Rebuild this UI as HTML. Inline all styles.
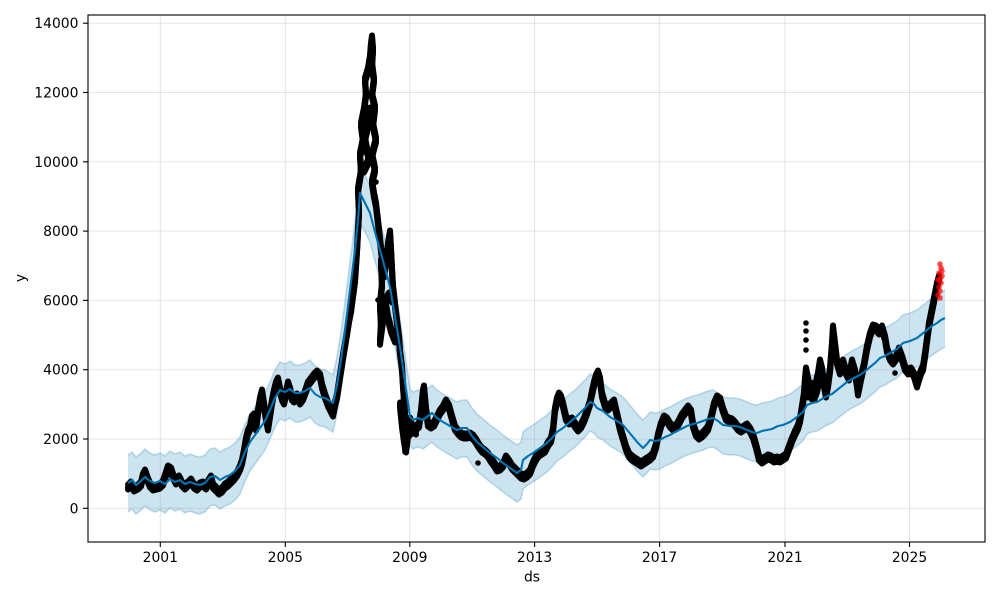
<!DOCTYPE html>
<html>
<head>
<meta charset="utf-8">
<style>
  html,body{margin:0;padding:0;background:#fff;width:1000px;height:600px;overflow:hidden;}
  svg{display:block;}
  text{font-family:"DejaVu Sans","Liberation Sans",sans-serif;font-size:13.9px;fill:#000;}
</style>
</head>
<body>
<svg width="1000" height="600" viewBox="0 0 1000 600" xmlns="http://www.w3.org/2000/svg">
  <defs>
    <clipPath id="ax"><rect x="88" y="15" width="897" height="527"/></clipPath>
  </defs>
  <rect x="0" y="0" width="1000" height="600" fill="#fff"/>

  <g clip-path="url(#ax)">
    <polygon fill="#cce3f0" transform="translate(0,-28)" points="128,483 132,480 136,485 140,482 145,477 150,481 155,483 160,481 165,484 170,479 175,482 180,480 185,484 190,482 195,484 200,485 205,483 210,477 215,476 220,480 225,477 230,475 235,471 240,465 245,452 250,442 255,435 260,428 265,421 270,410 275,398 280,390 285,392 290,389 295,393 300,393 305,391 310,388 315,394 320,397 325,398 330,401 333,403 337,385 341,360 345,330 350,290 355,250 358,220 360,193 365,203 370,213 375,232 380,250 385,268 390,287 395,317 400,347 405,382 410,417 413,420 418,418 423,420 428,416 432,413 437,418 443,422 450,426 457,430 462,428 467,428 472,436 477,442 483,447 490,453 497,458 503,463 510,468 517,473 521,470 523,460 528,456 533,453 540,448 547,443 552,438 557,432 563,428 570,422 575,418 580,413 585,408 590,402 594,404 597,408 603,411 610,417 617,421 623,425 628,431 633,437 638,443 643,448 647,444 650,440 655,441 660,440 665,437 670,435 677,431 683,428 687,426 693,424 697,423 703,421 708,419 713,418 718,421 723,425 730,426 735,426 740,427 747,430 752,432 757,433 762,431 767,430 772,429 778,426 783,425 790,422 797,417 803,412 807,405 812,403 817,402 822,399 827,396 832,394 837,390 842,386 847,382 852,379 858,376 863,373 870,367 875,363 880,358 885,356 890,353 897,349 903,343 910,341 917,338 922,334 927,330 932,326 937,323 941,320 945,318 945,560 128,560"/>
    <polygon fill="#ffffff" transform="translate(0,29)" points="128,483 132,480 136,485 140,482 145,477 150,481 155,483 160,481 165,484 170,479 175,482 180,480 185,484 190,482 195,484 200,485 205,483 210,477 215,476 220,480 225,477 230,475 235,471 240,465 245,452 250,442 255,435 260,428 265,421 270,410 275,398 280,390 285,392 290,389 295,393 300,393 305,391 310,388 315,394 320,397 325,398 330,401 333,403 337,385 341,360 345,330 350,290 355,250 358,220 360,193 365,203 370,213 375,232 380,250 385,268 390,287 395,317 400,347 405,382 410,417 413,420 418,418 423,420 428,416 432,413 437,418 443,422 450,426 457,430 462,428 467,428 472,436 477,442 483,447 490,453 497,458 503,463 510,468 517,473 521,470 523,460 528,456 533,453 540,448 547,443 552,438 557,432 563,428 570,422 575,418 580,413 585,408 590,402 594,404 597,408 603,411 610,417 617,421 623,425 628,431 633,437 638,443 643,448 647,444 650,440 655,441 660,440 665,437 670,435 677,431 683,428 687,426 693,424 697,423 703,421 708,419 713,418 718,421 723,425 730,426 735,426 740,427 747,430 752,432 757,433 762,431 767,430 772,429 778,426 783,425 790,422 797,417 803,412 807,405 812,403 817,402 822,399 827,396 832,394 837,390 842,386 847,382 852,379 858,376 863,373 870,367 875,363 880,358 885,356 890,353 897,349 903,343 910,341 917,338 922,334 927,330 932,326 937,323 941,320 945,318 945,560 128,560"/>
    <polyline id="bandline" fill="none" stroke="rgba(0,114,178,0.22)" stroke-width="1.6" transform="translate(0,-28)" points="128,483 132,480 136,485 140,482 145,477 150,481 155,483 160,481 165,484 170,479 175,482 180,480 185,484 190,482 195,484 200,485 205,483 210,477 215,476 220,480 225,477 230,475 235,471 240,465 245,452 250,442 255,435 260,428 265,421 270,410 275,398 280,390 285,392 290,389 295,393 300,393 305,391 310,388 315,394 320,397 325,398 330,401 333,403 337,385 341,360 345,330 350,290 355,250 358,220 360,193 365,203 370,213 375,232 380,250 385,268 390,287 395,317 400,347 405,382 410,417 413,420 418,418 423,420 428,416 432,413 437,418 443,422 450,426 457,430 462,428 467,428 472,436 477,442 483,447 490,453 497,458 503,463 510,468 517,473 521,470 523,460 528,456 533,453 540,448 547,443 552,438 557,432 563,428 570,422 575,418 580,413 585,408 590,402 594,404 597,408 603,411 610,417 617,421 623,425 628,431 633,437 638,443 643,448 647,444 650,440 655,441 660,440 665,437 670,435 677,431 683,428 687,426 693,424 697,423 703,421 708,419 713,418 718,421 723,425 730,426 735,426 740,427 747,430 752,432 757,433 762,431 767,430 772,429 778,426 783,425 790,422 797,417 803,412 807,405 812,403 817,402 822,399 827,396 832,394 837,390 842,386 847,382 852,379 858,376 863,373 870,367 875,363 880,358 885,356 890,353 897,349 903,343 910,341 917,338 922,334 927,330 932,326 937,323 941,320 945,318"/>
    <use href="#bandline" transform="translate(0,57)"/>

    <g stroke="#808080" stroke-opacity="0.2" stroke-width="1">
      <line x1="88" y1="508.3" x2="985" y2="508.3"/>
      <line x1="88" y1="439.0" x2="985" y2="439.0"/>
      <line x1="88" y1="369.7" x2="985" y2="369.7"/>
      <line x1="88" y1="300.4" x2="985" y2="300.4"/>
      <line x1="88" y1="231.1" x2="985" y2="231.1"/>
      <line x1="88" y1="161.8" x2="985" y2="161.8"/>
      <line x1="88" y1="92.5" x2="985" y2="92.5"/>
      <line x1="88" y1="23.2" x2="985" y2="23.2"/>
      <line x1="160.3" y1="15" x2="160.3" y2="542"/>
      <line x1="285.3" y1="15" x2="285.3" y2="542"/>
      <line x1="409.8" y1="15" x2="409.8" y2="542"/>
      <line x1="534.6" y1="15" x2="534.6" y2="542"/>
      <line x1="659.6" y1="15" x2="659.6" y2="542"/>
      <line x1="785" y1="15" x2="785" y2="542"/>
      <line x1="909.5" y1="15" x2="909.5" y2="542"/>
    </g>

    <g id="blk" fill="none" stroke="#000" stroke-width="6" stroke-linejoin="round" stroke-linecap="round">
      <polyline points="128,487 131,484 134,489 138,487 141,484 143,476 145,472 147,478 150,485 153,488 157,487 160,486 163,483 166,474 168,468 171,470 173,476 176,482 179,478 182,484 185,487 188,484 191,481 194,486 197,488 200,485 203,484 206,487 209,481 211,478 213,486 216,489 219,492 222,490 225,486 228,484 231,481 234,478 237,474 240,468 242,462 244,452 246,440 248,432 250,428 252,418 254,416 256,428 258,412 260,400 262,392 264,405 266,418 268,428 270,415 272,402 274,392 276,384 278,380 280,390 282,398 284,402 286,394 288,384 290,390 292,398 294,400 297,396 300,402 303,398 306,390 308,384 311,380 314,376 317,373 320,376 322,386 325,396 328,404 331,410 333,414 335,404 337,396 339,383 341,370 343,357 345,345 347,333 349,320 351,310 353,295 355,280 356,265 357,250 358,232 359,212 358,190 361,172 360,155 363,140 361,125 364,110 366,95 365,80 368,70 370,58 371,45 372,38 373,50 372,65 374,80 372,95 375,108 373,125 376,140 372,155 375,170 372,182 374,195 376,205 378,222 380,240 382,258 384,275 386,262 388,245 390,233 391,250 392,270 393,288 395,305 397,322 399,338 400,352 402,368 403,385 404,400 405,415 404,432 405,447 407,430 410,420 413,430 416,428 419,425 421,412 423,392 424,388 426,410 428,424 431,426 434,424 437,418 440,412 443,408 446,402 449,407 452,418 455,428 458,432 461,435 464,436 467,436 470,435 473,437 476,441 479,446 482,450 485,452 488,455 491,460 494,464 497,469 500,468 503,465 506,458 509,462 512,467 515,470 518,473 521,476 524,477 527,475 530,472 533,464 536,458 539,454 542,452 545,450 548,444 551,440 553,430 555,410 557,400 559,395 561,398 563,405 566,418 569,422 572,420 575,425 578,429 581,426 584,420 587,412 590,403 592,393 594,384 596,377 598,373 600,380 602,395 605,405 608,408 611,405 614,402 617,415 620,428 623,438 626,448 629,455 632,458 635,460 638,462 641,464 644,462 647,460 650,458 653,455 656,446 658,436 661,425 664,418 667,420 670,425 673,428 676,427 679,422 682,416 685,412 688,408 691,412 693,425 696,434 699,437 702,435 705,432 708,428 711,418 714,405 717,398 720,400 723,410 726,418 729,420 732,421 735,424 738,428 741,430 744,428 747,426 750,430 753,436 756,446 759,458 762,461 765,459 768,457 771,458 774,460 777,459 780,460 783,458 786,456 789,448 792,440 795,433 798,427 800,420 802,408 804,395 805,380 806,370 808,380 810,390 812,397 815,388 818,375 820,362 822,370 824,385 826,395 828,385 830,370 832,345 833,328 835,345 837,362 840,372 843,362 846,372 849,378 852,362 855,372 857,385 858,393 861,378 864,365 867,348 870,335 873,327 876,328 879,332 882,328 885,338 887,350 890,358 893,362 896,358 899,350 902,358 905,368 908,372 911,370 914,375 917,385 919,378 921,372 923,368 925,355 927,340 929,325 931,315 933,305 935,295 937,285 939,278"/>
      <polyline points="381,262 382,285 380,305 381,325 380,342 383,320 386,300 389,295 392,300"/>
      <polyline points="400,405 402,425 404,440 406,450 408,435 412,430 416,432"/>
      <polyline points="808,395 811,385 814,398 817,390 819,380"/>
      <polyline points="362,150 367,130 370,110 365,140 369,160 364,170"/>
      <polyline points="385,300 388,318 391,330 395,340"/>
    </g>
    <use href="#blk" transform="translate(0,-2.5)"/>
    <use href="#blk" transform="translate(0,2.5)"/>
    <g fill="#000">
      <circle cx="806" cy="323" r="2.8"/>
      <circle cx="806" cy="331" r="2.8"/>
      <circle cx="806" cy="340" r="2.8"/>
      <circle cx="806" cy="350" r="2.8"/>
      <circle cx="895" cy="373" r="2.8"/>
      <circle cx="380" cy="345" r="2.8"/>
      <circle cx="405" cy="452" r="2.8"/>
      <circle cx="478" cy="463" r="2.8"/>
      <circle cx="378" cy="300" r="2.8"/>
      <circle cx="376" cy="182" r="2.8"/>
    </g>

    <polyline fill="none" stroke="#0072B2" stroke-width="2.1" stroke-linejoin="round" points="128,483 132,480 136,485 140,482 145,477 150,481 155,483 160,481 165,484 170,479 175,482 180,480 185,484 190,482 195,484 200,485 205,483 210,477 215,476 220,480 225,477 230,475 235,471 240,465 245,452 250,442 255,435 260,428 265,421 270,410 275,398 280,390 285,392 290,389 295,393 300,393 305,391 310,388 315,394 320,397 325,398 330,401 333,403 337,385 341,360 345,330 350,290 355,250 358,220 360,193 365,203 370,213 375,232 380,250 385,268 390,287 395,317 400,347 405,382 410,417 413,420 418,418 423,420 428,416 432,413 437,418 443,422 450,426 457,430 462,428 467,428 472,436 477,442 483,447 490,453 497,458 503,463 510,468 517,473 521,470 523,460 528,456 533,453 540,448 547,443 552,438 557,432 563,428 570,422 575,418 580,413 585,408 590,402 594,404 597,408 603,411 610,417 617,421 623,425 628,431 633,437 638,443 643,448 647,444 650,440 655,441 660,440 665,437 670,435 677,431 683,428 687,426 693,424 697,423 703,421 708,419 713,418 718,421 723,425 730,426 735,426 740,427 747,430 752,432 757,433 762,431 767,430 772,429 778,426 783,425 790,422 797,417 803,412 807,405 812,403 817,402 822,399 827,396 832,394 837,390 842,386 847,382 852,379 858,376 863,373 870,367 875,363 880,358 885,356 890,353 897,349 903,343 910,341 917,338 922,334 927,330 932,326 937,323 941,320 945,318"/>

    <g fill="#ff0000" fill-opacity="0.7">
      <circle cx="940" cy="264" r="2.8"/>
      <circle cx="941" cy="268" r="2.8"/>
      <circle cx="942" cy="271" r="2.8"/>
      <circle cx="939" cy="273" r="2.8"/>
      <circle cx="942" cy="276" r="2.8"/>
      <circle cx="940" cy="279" r="2.8"/>
      <circle cx="941" cy="283" r="2.8"/>
      <circle cx="939" cy="287" r="2.8"/>
      <circle cx="940" cy="291" r="2.8"/>
      <circle cx="938" cy="295" r="2.8"/>
      <circle cx="940" cy="298" r="2.8"/>
      <circle cx="938" cy="280" r="2.8"/>
    </g>
  </g>

  <rect x="88" y="15" width="897" height="527" fill="none" stroke="#000" stroke-width="1.1"/>

  <g stroke="#000" stroke-width="1.1">
    <line x1="83" y1="508.3" x2="88" y2="508.3"/>
    <line x1="83" y1="439.0" x2="88" y2="439.0"/>
    <line x1="83" y1="369.7" x2="88" y2="369.7"/>
    <line x1="83" y1="300.4" x2="88" y2="300.4"/>
    <line x1="83" y1="231.1" x2="88" y2="231.1"/>
    <line x1="83" y1="161.8" x2="88" y2="161.8"/>
    <line x1="83" y1="92.5" x2="88" y2="92.5"/>
    <line x1="83" y1="23.2" x2="88" y2="23.2"/>
    <line x1="160.3" y1="542" x2="160.3" y2="547"/>
    <line x1="285.3" y1="542" x2="285.3" y2="547"/>
    <line x1="409.8" y1="542" x2="409.8" y2="547"/>
    <line x1="534.6" y1="542" x2="534.6" y2="547"/>
    <line x1="659.6" y1="542" x2="659.6" y2="547"/>
    <line x1="785" y1="542" x2="785" y2="547"/>
    <line x1="909.5" y1="542" x2="909.5" y2="547"/>
  </g>

  <g text-anchor="end">
    <text x="78.5" y="513.3">0</text>
    <text x="78.5" y="444.0">2000</text>
    <text x="78.5" y="374.7">4000</text>
    <text x="78.5" y="305.4">6000</text>
    <text x="78.5" y="236.1">8000</text>
    <text x="78.5" y="166.8">10000</text>
    <text x="78.5" y="97.5">12000</text>
    <text x="78.5" y="28.2">14000</text>
  </g>
  <g text-anchor="middle">
    <text x="160.3" y="562">2001</text>
    <text x="285.3" y="562">2005</text>
    <text x="409.8" y="562">2009</text>
    <text x="534.6" y="562">2013</text>
    <text x="659.6" y="562">2017</text>
    <text x="785" y="562">2021</text>
    <text x="909.5" y="562">2025</text>
  </g>

  <text x="532" y="581.5" text-anchor="middle">ds</text>
  <text x="0" y="0" text-anchor="middle" transform="translate(25,278) rotate(-90)">y</text>
</svg>
</body>
</html>
